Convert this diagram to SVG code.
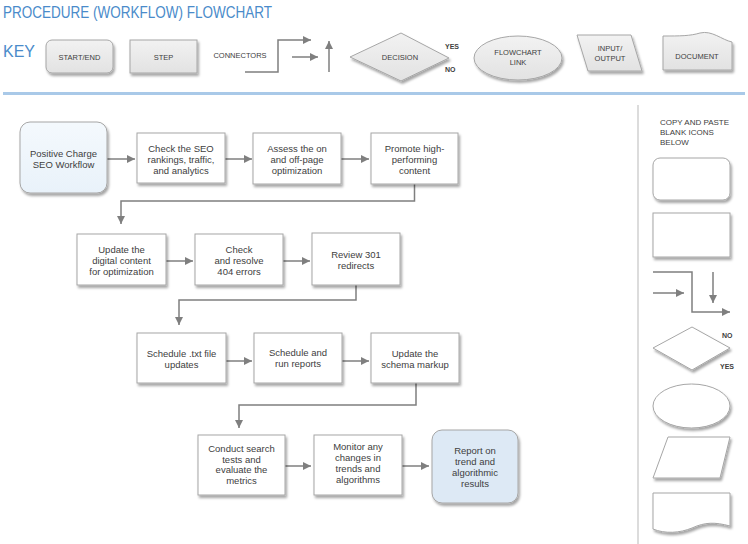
<svg xmlns="http://www.w3.org/2000/svg" width="748" height="544" viewBox="0 0 748 544">
<style>
.t{font-family:"Liberation Sans",Arial,sans-serif;fill:#404040;}
.n{font-size:9.5px;text-anchor:middle;}
.k{font-size:7.5px;text-anchor:middle;}
.yn{font-size:7px;font-weight:bold;}
.box{fill:#ffffff;stroke:#a6a6a6;stroke-width:1;}
.key{fill:url(#kg);stroke:#a6a6a6;stroke-width:1;}
.blank{fill:#ffffff;stroke:#a6a6a6;stroke-width:1;}
.c{fill:none;stroke:#7f7f7f;stroke-width:1.5;}
.h{font-family:"Liberation Sans",Arial,sans-serif;fill:#4a8bca;}
</style>
<defs>
<linearGradient id="kg" x1="0" y1="0" x2="0" y2="1"><stop offset="0" stop-color="#f2f2f2"/><stop offset="1" stop-color="#e2e2e2"/></linearGradient>
<linearGradient id="sg" x1="0" y1="0" x2="0" y2="1"><stop offset="0" stop-color="#f4f9fd"/><stop offset="1" stop-color="#e9f2fa"/></linearGradient>
<filter id="sh" x="-20%" y="-20%" width="140%" height="150%"><feDropShadow dx="1.5" dy="2.5" stdDeviation="1.3" flood-color="#000" flood-opacity="0.35"/></filter>
<marker id="ar" viewBox="0 0 8 8" refX="8" refY="4" markerWidth="8" markerHeight="8" markerUnits="userSpaceOnUse" orient="auto"><path d="M0,0 L8,4 L0,8 Z" fill="#7f7f7f"/></marker>
</defs>

<text class="h" x="3" y="18" font-size="16" textLength="269" lengthAdjust="spacingAndGlyphs">PROCEDURE (WORKFLOW) FLOWCHART</text>
<text class="h" x="3" y="57" font-size="16">KEY</text>
<rect x="3" y="92" width="742" height="3" fill="#a9c9e8"/>
<rect x="637" y="105" width="2" height="439" fill="#dcdcdc"/>

<g id="key">
<g id="key-start"><rect class="key" x="46" y="40" width="67" height="33" rx="6" filter="url(#sh)"/><text class="t k" x="79.5" y="59.5">START/END</text></g>
<g id="key-step"><rect class="key" x="130" y="40" width="67" height="33" filter="url(#sh)"/><text class="t k" x="163.5" y="59.5">STEP</text></g>
<g id="key-connectors"><text class="t k" x="240" y="58">CONNECTORS</text>
<path class="c" d="M245,72 H278 V40 H311" marker-end="url(#ar)"/>
<path class="c" d="M292,57 H318" marker-end="url(#ar)"/>
<path class="c" d="M329,72 V41" marker-end="url(#ar)"/></g>
<g id="key-decision"><polygon class="key" points="350,57 401,33 449,58 401,81" filter="url(#sh)"/><text class="t k" x="400" y="60">DECISION</text>
<text class="t yn" x="445" y="49">YES</text><text class="t yn" x="445" y="72">NO</text></g>
<g id="key-link"><ellipse class="key" cx="518" cy="58" rx="44" ry="22" filter="url(#sh)"/><text class="t k" x="518" y="55">FLOWCHART</text><text class="t k" x="518" y="65">LINK</text></g>
<g id="key-io"><polygon class="key" points="577,35 631,35 642,71 588,71" filter="url(#sh)"/><text class="t k" x="610" y="51">INPUT/</text><text class="t k" x="610" y="61">OUTPUT</text></g>
<g id="key-doc"><path class="key" d="M663,36 C680,36 690,36 700,33 C712,30 722,40 732,42 V70 H663 Z" filter="url(#sh)"/><text class="t k" x="697" y="59">DOCUMENT</text></g>
</g>

<g id="blank-icons">
<text class="t" font-size="8" x="660" y="125">COPY AND PASTE</text>
<text class="t" font-size="8" x="660" y="135">BLANK ICONS</text>
<text class="t" font-size="8" x="660" y="145">BELOW</text>
<rect class="blank" x="653" y="158" width="77" height="42" rx="7" filter="url(#sh)"/>
<rect class="blank" x="653" y="213" width="77" height="44" filter="url(#sh)"/>
<path class="c" d="M653,272 H692 V312 H730" marker-end="url(#ar)"/>
<path class="c" d="M653,293 H684" marker-end="url(#ar)"/>
<path class="c" d="M713,272 V303" marker-end="url(#ar)"/>
<polygon class="blank" points="653,348 692,327 730,348 692,370" filter="url(#sh)"/>
<text class="t yn" x="722" y="338">NO</text><text class="t yn" x="720" y="369">YES</text>
<ellipse class="blank" cx="691.5" cy="406" rx="38.5" ry="22" filter="url(#sh)"/>
<polygon class="blank" points="668,437 730,437 720,478 653,478" filter="url(#sh)"/>
<path class="blank" d="M653,493 H730 V526 C715,522 705,522 692,528 C680,533 665,534 653,529 Z" filter="url(#sh)"/>
</g>

<g id="connectors">
<path class="c" d="M107,159 H135" marker-end="url(#ar)"/>
<path class="c" d="M225,159 H252" marker-end="url(#ar)"/>
<path class="c" d="M341,159 H369" marker-end="url(#ar)"/>
<path class="c" d="M414.5,184 V201 H121 V224" marker-end="url(#ar)"/>
<path class="c" d="M166,261 H193" marker-end="url(#ar)"/>
<path class="c" d="M283,261 H310" marker-end="url(#ar)"/>
<path class="c" d="M356,285 V300 H179 V325" marker-end="url(#ar)"/>
<path class="c" d="M226,361 H252" marker-end="url(#ar)"/>
<path class="c" d="M342,361 H369" marker-end="url(#ar)"/>
<path class="c" d="M416,383 V405 H239 V428" marker-end="url(#ar)"/>
<path class="c" d="M285,466 H311" marker-end="url(#ar)"/>
<path class="c" d="M402,466 H429" marker-end="url(#ar)"/>
</g>

<g id="n-start"><rect x="20" y="122" width="87" height="71" rx="10" fill="url(#sg)" stroke="#a6a6a6" filter="url(#sh)"/>
<text class="t n" x="63.5" y="157">Positive Charge</text><text class="t n" x="63.5" y="168">SEO Workflow</text></g>
<g id="n1"><rect class="box" x="137" y="133" width="88" height="50" filter="url(#sh)"/>
<text class="t n" x="181" y="152">Check the SEO</text><text class="t n" x="181" y="163">rankings, traffic,</text><text class="t n" x="181" y="174">and analytics</text></g>
<g id="n2"><rect class="box" x="253" y="133" width="88" height="51" filter="url(#sh)"/>
<text class="t n" x="297" y="152">Assess the on</text><text class="t n" x="297" y="163">and off-page</text><text class="t n" x="297" y="174">optimization</text></g>
<g id="n3"><rect class="box" x="371" y="133" width="87" height="51" filter="url(#sh)"/>
<text class="t n" x="414.5" y="152">Promote high-</text><text class="t n" x="414.5" y="163">performing</text><text class="t n" x="414.5" y="174">content</text></g>
<g id="n4"><rect class="box" x="77" y="234" width="89" height="51" filter="url(#sh)"/>
<text class="t n" x="121.5" y="253">Update the</text><text class="t n" x="121.5" y="264">digital content</text><text class="t n" x="121.5" y="275">for optimization</text></g>
<g id="n5"><rect class="box" x="195" y="234" width="88" height="51" filter="url(#sh)"/>
<text class="t n" x="239" y="253">Check</text><text class="t n" x="239" y="264">and resolve</text><text class="t n" x="239" y="275">404 errors</text></g>
<g id="n6"><rect class="box" x="312" y="233" width="88" height="52" filter="url(#sh)"/>
<text class="t n" x="356" y="258">Review 301</text><text class="t n" x="356" y="269">redirects</text></g>
<g id="n7"><rect class="box" x="137" y="333" width="89" height="50" filter="url(#sh)"/>
<text class="t n" x="181.5" y="357">Schedule .txt file</text><text class="t n" x="181.5" y="368">updates</text></g>
<g id="n8"><rect class="box" x="254" y="333" width="88" height="50" filter="url(#sh)"/>
<text class="t n" x="298" y="356">Schedule and</text><text class="t n" x="298" y="367">run reports</text></g>
<g id="n9"><rect class="box" x="371" y="333" width="88" height="50" filter="url(#sh)"/>
<text class="t n" x="415" y="357">Update the</text><text class="t n" x="415" y="368">schema markup</text></g>
<g id="n10"><rect class="box" x="198" y="435" width="87" height="60" filter="url(#sh)"/>
<text class="t n" x="241.5" y="452">Conduct search</text><text class="t n" x="241.5" y="462.5">tests and</text><text class="t n" x="241.5" y="473">evaluate the</text><text class="t n" x="241.5" y="483.5">metrics</text></g>
<g id="n11"><rect class="box" x="314" y="435" width="88" height="60" filter="url(#sh)"/>
<text class="t n" x="358" y="450">Monitor any</text><text class="t n" x="358" y="461">changes in</text><text class="t n" x="358" y="472">trends and</text><text class="t n" x="358" y="483">algorithms</text></g>
<g id="n-end"><rect x="432" y="430" width="86" height="73" rx="10" fill="#dde9f5" stroke="#a6a6a6" filter="url(#sh)"/>
<text class="t n" x="475" y="454">Report on</text><text class="t n" x="475" y="465">trend and</text><text class="t n" x="475" y="476">algorithmic</text><text class="t n" x="475" y="487">results</text></g>
</svg>
